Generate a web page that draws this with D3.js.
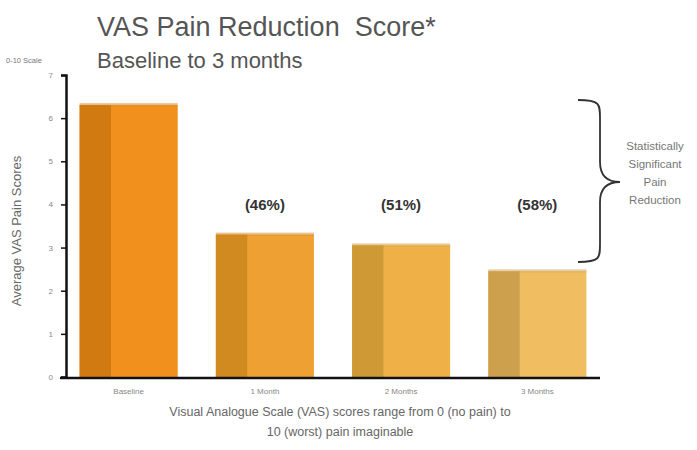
<!DOCTYPE html>
<html>
<head>
<meta charset="utf-8">
<script src="https://cdn.jsdelivr.net/npm/d3@7"></script>
<style>
  body { margin: 0; background: #fff; }
  text { font-family: "Liberation Sans", Arial, sans-serif; }
</style>
</head>
<body>
<svg width="697" height="450"></svg>
<script>
// chart data
var categories = ["Baseline", "1 Month", "2 Months", "3 Months"];
var painScores = [6.3, 3.3, 3.05, 2.45];
var reductionLabels = ["", "(46%)", "(51%)", "(58%)"];
var yTicks = [0, 1, 2, 3, 4, 5, 6, 7];
var frontColors = ["#f1901c", "#efa032", "#efb048", "#f0bd60"];
var sideColors = ["#d27a12", "#d08a20", "#cf9a36", "#cda04e"];

var svg = d3.select("svg");

var x = d3.scaleBand()
    .domain(categories)
    .range([66, 600])
    .paddingInner(0.28)
    .paddingOuter(0.1);

var y = d3.scaleLinear()
    .domain([0, 7])
    .range([377, 75]);

// titles
svg.append("text")
    .attr("x", 97).attr("y", 36)
    .attr("font-size", 27)
    .attr("fill", "#555")
    .attr("xml:space", "preserve")
    .text("VAS Pain Reduction  Score*");

svg.append("text")
    .attr("x", 97).attr("y", 68)
    .attr("font-size", 22)
    .attr("fill", "#555")
    .text("Baseline to 3 months");

svg.append("text")
    .attr("x", 6).attr("y", 63)
    .attr("font-size", 7.5)
    .attr("fill", "#777")
    .text("0-10 Scale");

// bars, with a darker side strip and a thin top face
var bars = svg.append("g").selectAll("g")
    .data(categories)
    .enter().append("g");

bars.append("rect")
    .attr("x", function(d) { return x(d); })
    .attr("y", function(d, i) { return y(painScores[i]); })
    .attr("width", x.bandwidth())
    .attr("height", function(d, i) { return y(0) - y(painScores[i]); })
    .attr("fill", function(d, i) { return frontColors[i]; });

bars.append("rect")
    .attr("x", function(d) { return x(d); })
    .attr("y", function(d, i) { return y(painScores[i]); })
    .attr("width", x.bandwidth() * 0.32)
    .attr("height", function(d, i) { return y(0) - y(painScores[i]); })
    .attr("fill", function(d, i) { return sideColors[i]; });

bars.append("rect")
    .attr("x", function(d) { return x(d); })
    .attr("y", function(d, i) { return y(painScores[i]) - 2; })
    .attr("width", x.bandwidth())
    .attr("height", 3)
    .attr("fill", function(d, i) { return sideColors[i]; })
    .attr("opacity", 0.5);

// percentage labels
bars.append("text")
    .attr("x", function(d) { return x(d) + x.bandwidth() / 2; })
    .attr("y", 210)
    .attr("text-anchor", "middle")
    .attr("font-size", 15)
    .attr("font-weight", "bold")
    .attr("fill", "#333")
    .text(function(d, i) { return reductionLabels[i]; });

// axes
var yAxis = svg.append("g")
    .attr("transform", "translate(66,0)")
    .call(d3.axisLeft(y).tickValues(yTicks).tickFormat(d3.format("d")).tickSize(5).tickPadding(8));
yAxis.select(".domain").attr("stroke", "#111").attr("stroke-width", 2.5);
yAxis.selectAll(".tick line").attr("stroke", "#111").attr("stroke-width", 1.5);
yAxis.selectAll(".tick text").attr("font-size", 8).attr("fill", "#888")
    .style("font-family", "Liberation Sans, Arial, sans-serif");

var xAxis = svg.append("g")
    .attr("transform", "translate(0,378)")
    .call(d3.axisBottom(x).tickSize(0).tickPadding(10));
xAxis.select(".domain").attr("d", "M60,0H600").attr("stroke", "#111").attr("stroke-width", 2.5);
xAxis.selectAll(".tick text").attr("font-size", 8).attr("fill", "#888")
    .style("font-family", "Liberation Sans, Arial, sans-serif");

svg.append("text")
    .attr("transform", "translate(21,231) rotate(-90)")
    .attr("text-anchor", "middle")
    .attr("font-size", 13)
    .attr("fill", "#666")
    .text("Average VAS Pain Scores");

svg.append("text")
    .attr("x", 340).attr("y", 416)
    .attr("text-anchor", "middle")
    .attr("font-size", 12.5)
    .attr("fill", "#666")
    .text("Visual Analogue Scale (VAS) scores range from 0 (no pain) to");

svg.append("text")
    .attr("x", 340).attr("y", 436)
    .attr("text-anchor", "middle")
    .attr("font-size", 12.5)
    .attr("fill", "#666")
    .text("10 (worst) pain imaginable");

// brace on the right
var bx = 578, bv = 600, tipX = 620, braceTop = 100, braceBot = 262, braceMid = 182;
var brace = d3.path();
brace.moveTo(bx, braceTop);
brace.bezierCurveTo(bv, braceTop, bv, braceTop + 4, bv, braceTop + 18);
brace.lineTo(bv, braceMid - 20);
brace.bezierCurveTo(bv, braceMid - 6, bv + 8, braceMid, tipX, braceMid);
brace.bezierCurveTo(bv + 8, braceMid, bv, braceMid + 6, bv, braceMid + 20);
brace.lineTo(bv, braceBot - 18);
brace.bezierCurveTo(bv, braceBot - 4, bv, braceBot, bx, braceBot);
svg.append("path")
    .attr("d", brace.toString())
    .attr("fill", "none")
    .attr("stroke", "#333")
    .attr("stroke-width", 1.8);

var braceText = ["Statistically", "Significant", "Pain", "Reduction"];
svg.append("g").selectAll("text")
    .data(braceText)
    .enter().append("text")
    .attr("x", 655)
    .attr("y", function(d, i) { return 150 + i * 18; })
    .attr("text-anchor", "middle")
    .attr("font-size", 11.5)
    .attr("fill", "#777")
    .text(function(d) { return d; });
</script>
</body>
</html>
